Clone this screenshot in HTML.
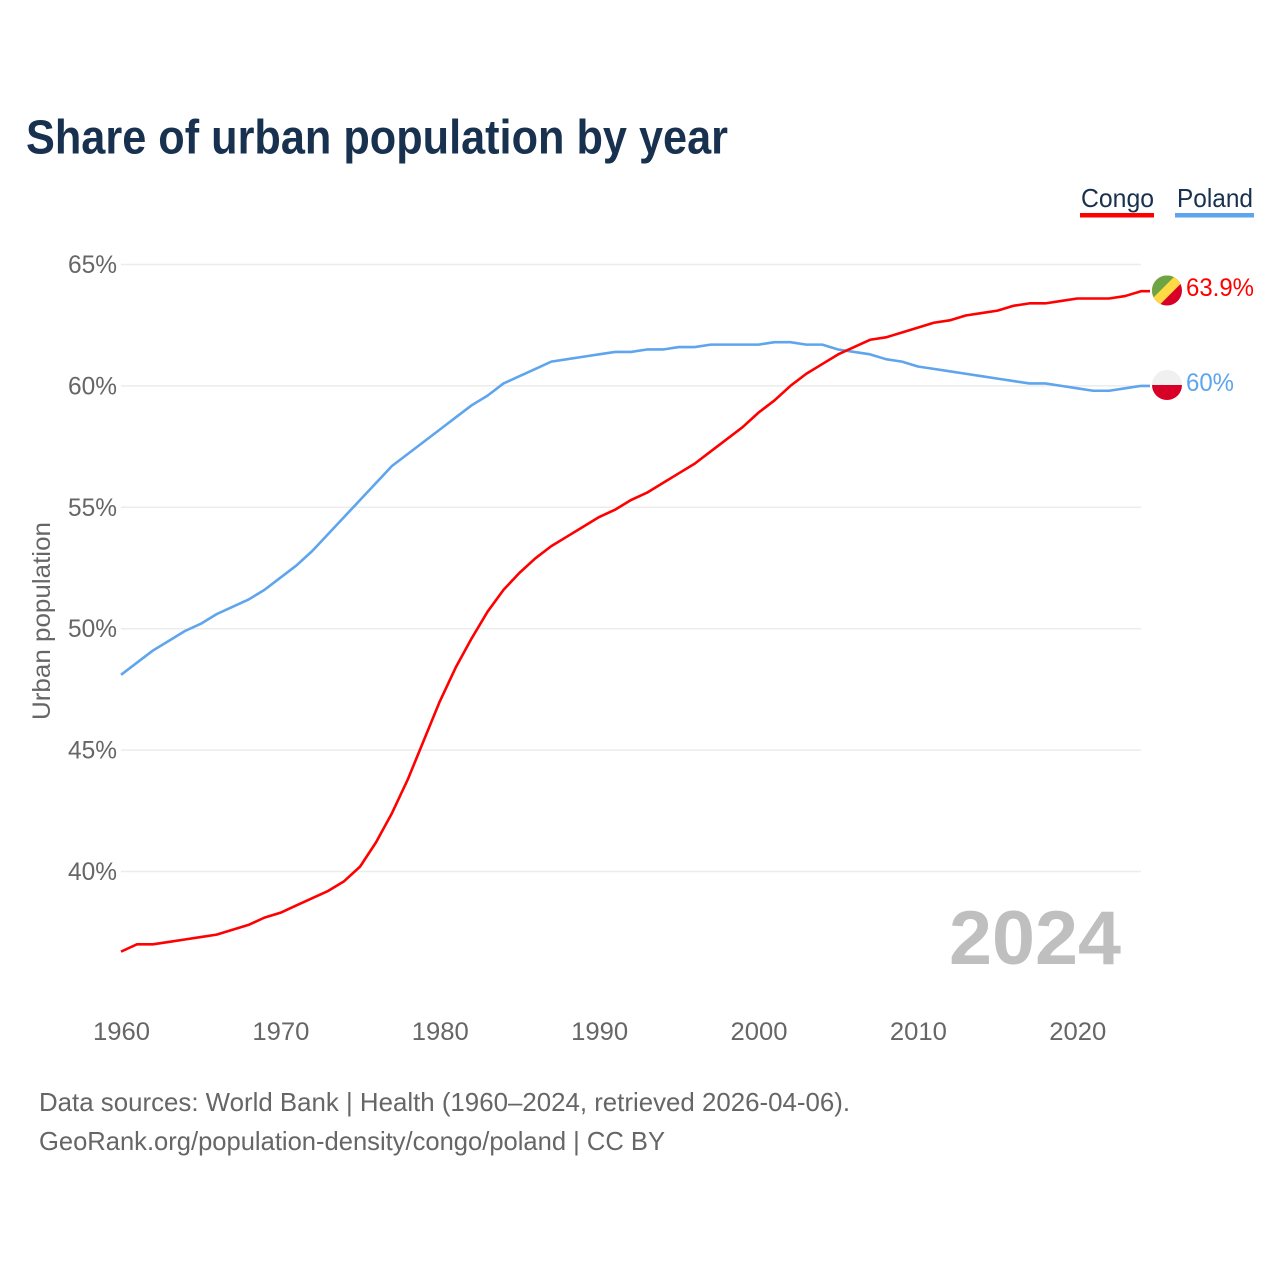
<!DOCTYPE html>
<html lang="en">
<head>
<meta charset="utf-8">
<title>Share of urban population by year</title>
<style>
html,body{margin:0;padding:0;background:#fff;width:1280px;height:1280px;overflow:hidden}
svg{display:block}
text{font-family:"Liberation Sans",sans-serif}
</style>
</head>
<body>
<svg id="chart" width="1280" height="1280" viewBox="0 0 1280 1280" xmlns="http://www.w3.org/2000/svg">
  <defs>
    <clipPath id="flag-clip-congo"><circle cx="1167" cy="290.5" r="15"/></clipPath>
    <clipPath id="flag-clip-poland"><circle cx="1167" cy="385" r="15"/></clipPath>
  </defs>
  <rect x="0" y="0" width="1280" height="1280" fill="#fff"/>
  <text x="26" y="153.5" font-size="48" font-weight="700" fill="#17314f" textLength="702" lengthAdjust="spacingAndGlyphs">Share of urban population by year</text>

  <g id="grid"></g>
  <g id="yticks"></g>
  <g id="xticks"></g>

  <text transform="translate(50,720) rotate(-90)" x="0" y="0" font-size="25" fill="#666" textLength="198" lengthAdjust="spacingAndGlyphs">Urban population</text>

  <text x="949" y="964" font-size="76" font-weight="700" fill="#bfbfbf" textLength="172" lengthAdjust="spacingAndGlyphs">2024</text>

  <g id="series"></g>

  <g>
    <text x="1081" y="207" font-size="26" fill="#17314f" textLength="73" lengthAdjust="spacingAndGlyphs">Congo</text>
    <rect x="1080" y="213" width="74" height="4.5" fill="#ff0000"/>
  </g>
  <g>
    <text x="1177" y="207" font-size="26" fill="#17314f" textLength="76" lengthAdjust="spacingAndGlyphs">Poland</text>
    <rect x="1175" y="213" width="79" height="4.5" fill="#5ea5ee"/>
  </g>

  <g clip-path="url(#flag-clip-congo)">
    <rect x="1150" y="273" width="34" height="35" fill="#d80027"/>
    <polygon points="1150,273 1191.5,273 1150,314.5" fill="#ffda44"/>
    <polygon points="1150,273 1178,273 1150,301" fill="#6da544"/>
  </g>
  <g clip-path="url(#flag-clip-poland)">
    <rect x="1150" y="368" width="34" height="17" fill="#f0f0f0"/>
    <rect x="1150" y="385" width="34" height="17" fill="#d80027"/>
  </g>

  <text x="1186" y="296" font-size="25" fill="#ff0000" textLength="68" lengthAdjust="spacingAndGlyphs">63.9%</text>
  <text x="1186" y="391" font-size="25" fill="#5ea5ee" textLength="48" lengthAdjust="spacingAndGlyphs">60%</text>

  <text x="39" y="1111" font-size="26" fill="#666" textLength="811" lengthAdjust="spacingAndGlyphs">Data sources: World Bank | Health (1960–2024, retrieved 2026-04-06).</text>
  <text x="39" y="1150" font-size="26" fill="#666" textLength="626" lengthAdjust="spacingAndGlyphs">GeoRank.org/population-density/congo/poland | CC BY</text>
</svg>
<script>
const startYear = 1960;
const congoValues = [36.7,37.0,37.0,37.1,37.2,37.3,37.4,37.6,37.8,38.1,38.3,38.6,38.9,39.2,39.6,40.2,41.2,42.4,43.8,45.4,47.0,48.4,49.6,50.7,51.6,52.3,52.9,53.4,53.8,54.2,54.6,54.9,55.3,55.6,56.0,56.4,56.8,57.3,57.8,58.3,58.9,59.4,60.0,60.5,60.9,61.3,61.6,61.9,62.0,62.2,62.4,62.6,62.7,62.9,63.0,63.1,63.3,63.4,63.4,63.5,63.6,63.6,63.6,63.7,63.9];
const polandValues = [48.1,48.6,49.1,49.5,49.9,50.2,50.6,50.9,51.2,51.6,52.1,52.6,53.2,53.9,54.6,55.3,56.0,56.7,57.2,57.7,58.2,58.7,59.2,59.6,60.1,60.4,60.7,61.0,61.1,61.2,61.3,61.4,61.4,61.5,61.5,61.6,61.6,61.7,61.7,61.7,61.7,61.8,61.8,61.7,61.7,61.5,61.4,61.3,61.1,61.0,60.8,60.7,60.6,60.5,60.4,60.3,60.2,60.1,60.1,60.0,59.9,59.8,59.8,59.9,60.0];
const yTickValues = [40,45,50,55,60,65];
const xTickValues = [1960,1970,1980,1990,2000,2010,2020];

const NS = 'http://www.w3.org/2000/svg';
function xScale(year){ return 121 + (year - 1960) * (1141 - 121) / 64; }
function yScale(v){ return 871.5 - (v - 40) * (871.5 - 264.5) / 25; }

const gridGroup = document.getElementById('grid');
const yGroup = document.getElementById('yticks');
const xGroup = document.getElementById('xticks');
const seriesGroup = document.getElementById('series');

yTickValues.forEach(function(v){
  const line = document.createElementNS(NS,'line');
  
  
  line.setAttribute('x1', xScale(1960));
  line.setAttribute('x2', xScale(2024));
  line.setAttribute('y1', yScale(v));
  line.setAttribute('y2', yScale(v));
  line.setAttribute('stroke', '#ececec');
  line.setAttribute('stroke-width', '1.5');
  gridGroup.appendChild(line);

  const label = document.createElementNS(NS,'text');
  
  
  label.setAttribute('x', 68);
  label.setAttribute('y', yScale(v) + 8.5);
  label.setAttribute('font-size', '25');
  label.setAttribute('fill', '#666');
  label.setAttribute('textLength', '49');
  label.setAttribute('lengthAdjust', 'spacingAndGlyphs');
  label.textContent = v + '%';
  yGroup.appendChild(label);
});

xTickValues.forEach(function(year){
  const label = document.createElementNS(NS,'text');
  
  
  label.setAttribute('x', xScale(year) - 28);
  label.setAttribute('y', 1040);
  label.setAttribute('font-size', '25');
  label.setAttribute('fill', '#666');
  label.setAttribute('textLength', '57');
  label.setAttribute('lengthAdjust', 'spacingAndGlyphs');
  label.textContent = year;
  xGroup.appendChild(label);
});

function buildPath(values){
  let d = '';
  values.forEach(function(v,i){
    d += (i ? 'L' : 'M') + xScale(startYear + i).toFixed(2) + ' ' + yScale(v).toFixed(2);
  });
  d += 'L' + (xScale(startYear + values.length - 1) + 9).toFixed(2) + ' ' + yScale(values[values.length - 1]).toFixed(2);
  return d;
}

const polandPath = document.createElementNS(NS,'path');


polandPath.setAttribute('d', buildPath(polandValues));
polandPath.setAttribute('fill', 'none');
polandPath.setAttribute('stroke', '#5ea5ee');
polandPath.setAttribute('stroke-width', '2.6');
polandPath.setAttribute('stroke-linejoin', 'round');
seriesGroup.appendChild(polandPath);

const congoPath = document.createElementNS(NS,'path');


congoPath.setAttribute('d', buildPath(congoValues));
congoPath.setAttribute('fill', 'none');
congoPath.setAttribute('stroke', '#ff0000');
congoPath.setAttribute('stroke-width', '2.6');
congoPath.setAttribute('stroke-linejoin', 'round');
seriesGroup.appendChild(congoPath);
</script>
</body>
</html>
